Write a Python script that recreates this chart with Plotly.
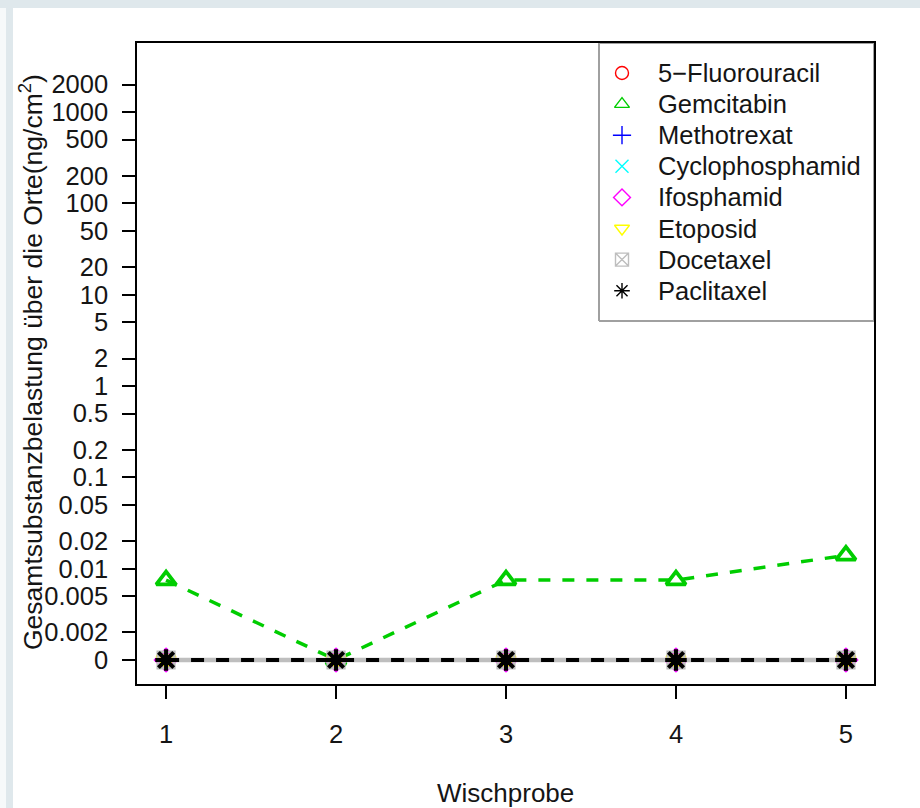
import math
import plotly.graph_objects as go

# ---- data -------------------------------------------------------------
samples = [1, 2, 3, 4, 5]

substances = ["5\u2212Fluorouracil", "Gemcitabin", "Methotrexat", "Cyclophosphamid",
              "Ifosphamid", "Etoposid", "Docetaxel", "Paclitaxel"]

fluorouracil = [0, 0, 0, 0, 0]
gemcitabin = [0.0075, 0, 0.0075, 0.0075, 0.014]
methotrexat = [0, 0, 0, 0, 0]
cyclophosphamid = [0, 0, 0, 0, 0]
ifosphamid = [0, 0, 0, 0, 0]
etoposid = [0, 0, 0, 0, 0]
docetaxel = [0, 0, 0, 0, 0]
paclitaxel = [0, 0, 0, 0, 0]

y_tick_vals = [0.001, 0.002, 0.005, 0.01, 0.02, 0.05, 0.1, 0.2, 0.5, 1, 2, 5,
               10, 20, 50, 100, 200, 500, 1000, 2000]
y_tick_text = ["0", "0.002", "0.005", "0.01", "0.02", "0.05", "0.1", "0.2", "0.5",
               "1", "2", "5", "10", "20", "50", "100", "200", "500", "1000", "2000"]
grid_vals = [0.001, 0.01, 0.1, 1, 10, 100, 1000]

# ---- styling ------------------------------------------------------------
ZERO_AT = 0.001          # position where a value of 0 is shown on the log axis
FONT = "Liberation Sans, Arial, sans-serif"
FS = 25.5
TXT = "#151515"

colors = ["#FF0000", "#00CD00", "#0000FF", "#00FFFF", "#FF00FF", "#FFFF00", "#BEBEBE", "#000000"]
symbols = ["circle-open", "triangle-up-open", "cross-thin-open", "x-thin-open",
           "diamond-open", "triangle-down-open", "square-x-open", "asterisk-open"]
series = [fluorouracil, gemcitabin, methotrexat, cyclophosphamid,
          ifosphamid, etoposid, docetaxel, paclitaxel]

X_RANGE = [0.829, 5.165]
Y_RANGE = [-3.263, 3.756]

# figure geometry (pixels) used for the paper-referenced decorations
W, H = 920, 808
ML, MR, MT, MB = 137, 46, 43, 124
PW, PH = W - ML - MR, H - MT - MB


def px_x(x):
    return (x - ML) / PW


def px_y(y):
    return (H - MB - y) / PH


def shown(vals):
    return [v if v > 0 else ZERO_AT for v in vals]


fig = go.Figure()

# data series
for name, vals, col, sym in zip(substances, series, colors, symbols):
    size, mlw = 16, 3.2
    if name == "Docetaxel":
        line = dict(color=col, width=4.5)
    elif name == "Paclitaxel":
        line = dict(color=col, width=4, dash="13px,12px")
        size, mlw = 18, 4
    else:
        line = dict(color=col, width=3.5, dash="12px,12px")
    if name == "Gemcitabin":
        size, mlw = 17, 3.8
    fig.add_trace(go.Scatter(
        x=samples, y=shown(vals), mode="lines+markers", name=name,
        line=line,
        marker=dict(symbol=sym, size=size, color=col, line=dict(color=col, width=mlw)),
        showlegend=False, cliponaxis=False,
    ))

# legend panel on an overlaid unit axis
lx0, lx1 = px_x(599), px_x(874)
ly0, ly1 = px_y(321), px_y(43)
fig.add_trace(go.Scatter(
    x=[lx0, lx1, lx1, lx0, lx0], y=[ly0, ly0, ly1, ly1, ly0],
    xaxis="x2", yaxis="y2", mode="lines", fill="toself", fillcolor="white",
    line=dict(color="#A0A0A0", width=2), showlegend=False, hoverinfo="skip",
))
row_y = [px_y(73 + i * 31.1) for i in range(len(substances))]
fig.add_trace(go.Scatter(
    x=[px_x(622)] * len(substances), y=row_y, xaxis="x2", yaxis="y2", mode="markers",
    marker=dict(symbol=symbols, size=13, color=colors,
                line=dict(color=colors, width=1.4)),
    showlegend=False, hoverinfo="skip",
))
annotations = []
for name, yy in zip(substances, row_y):
    annotations.append(dict(
        x=px_x(656), y=yy, xref="paper", yref="paper", text=name, showarrow=False,
        xanchor="left", yanchor="middle", font=dict(family=FONT, size=FS, color=TXT),
    ))

# axis titles
annotations.append(dict(
    x=px_x(31), y=px_y(362), xref="paper", yref="paper",
    text="Gesamtsubstanzbelastung über die Orte(ng/cm<sup>2</sup>)", textangle=-90,
    showarrow=False, xanchor="center", yanchor="middle",
    font=dict(family=FONT, size=26.5, color=TXT),
))
annotations.append(dict(
    x=0.5, y=px_y(793), xref="paper", yref="paper", text="Wischprobe",
    showarrow=False, xanchor="center", yanchor="middle",
    font=dict(family=FONT, size=26, color=TXT),
))

# dotted reference lines at decades
shapes = []
for g in grid_vals:
    shapes.append(dict(
        type="line", xref="paper", yref="y", x0=0, x1=1,
        y0=math.log10(g), y1=math.log10(g), layer="below",
        line=dict(color="#222222", width=1.6, dash="1.6px,6.7px"),
    ))

# page backdrop
shapes.append(dict(type="rect", xref="paper", yref="paper", layer="below",
                   x0=px_x(13), x1=px_x(930), y0=px_y(820), y1=px_y(8),
                   fillcolor="white", line=dict(width=0)))
shapes.append(dict(type="rect", xref="paper", yref="paper", layer="below",
                   x0=px_x(-10), x1=px_x(6), y0=px_y(820), y1=px_y(8),
                   fillcolor="#F6F9FA", line=dict(width=0)))

fig.update_layout(
    width=W, height=H,
    margin=dict(l=ML, r=MR, t=MT, b=MB),
    paper_bgcolor="#DFE8EC", plot_bgcolor="rgba(0,0,0,0)",
    font=dict(family=FONT, size=FS, color=TXT),
    showlegend=False,
    xaxis=dict(
        range=X_RANGE, tickvals=samples, ticktext=[str(s) for s in samples],
        showgrid=False, zeroline=False, showline=True, mirror=True,
        linecolor="black", linewidth=1.5, ticks="outside", ticklen=13,
        tickwidth=1.5, tickcolor="black", ticklabelstandoff=14,
        tickfont=dict(family=FONT, size=FS, color=TXT),
    ),
    yaxis=dict(
        type="log", range=Y_RANGE, tickvals=y_tick_vals, ticktext=y_tick_text,
        showgrid=False, zeroline=False, showline=True, mirror=True,
        linecolor="black", linewidth=1.5, ticks="outside", ticklen=13,
        tickwidth=1.5, tickcolor="black", ticklabelstandoff=9,
        tickfont=dict(family=FONT, size=FS, color=TXT),
    ),
    xaxis2=dict(overlaying="x", range=[0, 1], visible=False, fixedrange=True),
    yaxis2=dict(overlaying="y", range=[0, 1], visible=False, fixedrange=True),
    shapes=shapes,
    annotations=annotations,
)

fig.write_html("out.html")
